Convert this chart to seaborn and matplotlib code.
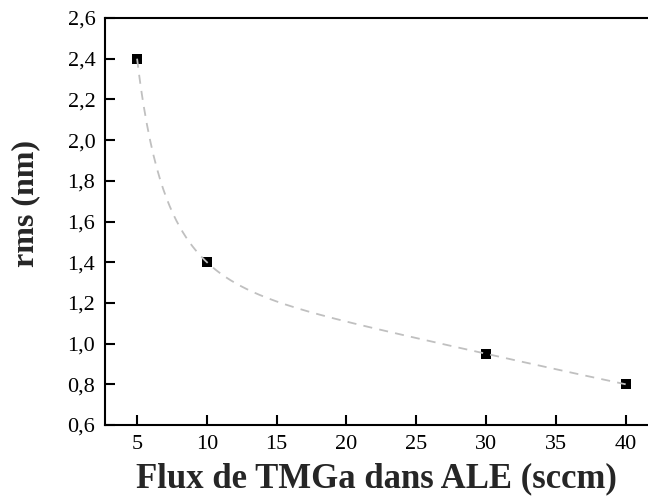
import numpy as np
import matplotlib
matplotlib.use("Agg")
import matplotlib.pyplot as plt
import seaborn as sns
import pandas as pd

# data
flux_sccm = [5, 10, 30, 40]
rms_nm = [2.4, 1.4, 0.95, 0.8]
x_ticks = [5, 10, 15, 20, 25, 30, 35, 40]
y_ticks = [0.6, 0.8, 1.0, 1.2, 1.4, 1.6, 1.8, 2.0, 2.2, 2.4, 2.6]

df = pd.DataFrame({"flux": flux_sccm, "rms": rms_nm})

sns.set_style("white")
plt.rcParams["font.family"] = ["Liberation Serif", "DejaVu Serif"]

fig = plt.figure(figsize=(6.48, 5.0), dpi=100)
ax = fig.add_axes([0.162, 0.15, 0.838, 0.814])

# smooth guide curve: cubic fit in log-log space
coef = np.polyfit(np.log(df["flux"]), np.log(df["rms"]), 3)
xs = np.linspace(5, 40, 300)
fit = pd.DataFrame({"flux": xs, "rms": np.exp(np.polyval(coef, np.log(xs)))})

sns.scatterplot(data=df, x="flux", y="rms", marker="s", s=60, color="black",
                edgecolor="black", linewidth=0, ax=ax, zorder=2)
sns.lineplot(data=fit, x="flux", y="rms", color="#c0c0c0", linewidth=1.3,
             linestyle=(0, (5, 4)), ax=ax, zorder=3)

ax.set_xlim(2.7, 41.6)
ax.set_ylim(0.6, 2.6)
ax.set_xticks(x_ticks)
ax.set_yticks(y_ticks)
ax.set_yticklabels([f"{v:.1f}".replace(".", ",") for v in y_ticks])
ax.tick_params(direction="in", length=7, width=1.5, labelsize=16,
               bottom=True, left=True, pad=7, colors="black")
for side in ["left", "top", "bottom"]:
    ax.spines[side].set_linewidth(1.5)
    ax.spines[side].set_color("black")
ax.spines["right"].set_visible(False)

ax.set_xlabel("Flux de TMGa dans ALE (sccm)", fontsize=25, fontweight="bold", labelpad=6)
ax.set_ylabel("rms (nm)", fontsize=23, fontweight="bold")
ax.yaxis.set_label_coords(-0.12, 0.545)

fig.savefig("out.png", dpi=100)
